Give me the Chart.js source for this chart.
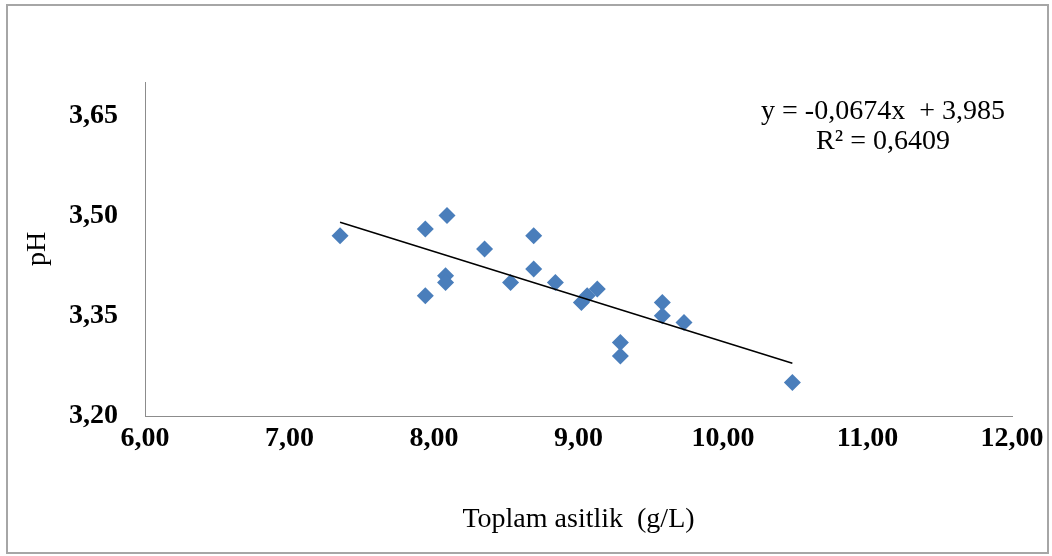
<!DOCTYPE html>
<html>
<head>
<meta charset="utf-8">
<script src="https://cdn.jsdelivr.net/npm/chart.js@4"></script>
<style>
  html, body { margin: 0; padding: 0; background: #ffffff; }
  #wrap { width: 1052px; height: 556px; }
</style>
</head>
<body>
<div id="wrap"><canvas id="chart" width="1052" height="556"></canvas></div>
<script>
// values
const acidity = [7.35, 7.94, 8.09, 8.35, 8.69, 8.69, 8.08, 8.08, 7.94, 8.53,
                 8.84, 9.02, 9.06, 9.13, 9.29, 9.29, 9.58, 9.58, 9.73, 10.48];
const phValues = [3.47, 3.48, 3.50, 3.45, 3.47, 3.42, 3.41, 3.40, 3.38, 3.40,
                  3.40, 3.37, 3.38, 3.39, 3.31, 3.29, 3.37, 3.35, 3.34, 3.25];

// trend line end points (linear fit shown on the chart)
const trendX = [7.35, 10.48];
const trendY = [3.490, 3.279];
const trendLabels = ["y = -0,0674x  + 3,985", "R² = 0,6409"];

const xTicks = [6, 7, 8, 9, 10, 11, 12];
const yTicks = [3.20, 3.35, 3.50, 3.65];

const serif = "'Liberation Serif', 'Times New Roman', serif";

function comma(v) {
  return Number(v).toFixed(2).replace(".", ",");
}

const frame = {
  id: "frame",
  beforeDraw(chart) {
    const ctx = chart.ctx;
    ctx.save();
    ctx.fillStyle = "#ffffff";
    ctx.fillRect(0, 0, chart.width, chart.height);
    ctx.strokeStyle = "#a6a6a6";
    ctx.lineWidth = 2;
    ctx.strokeRect(7, 5, 1041, 548);
    ctx.restore();
  },
  afterDraw(chart) {
    const ctx = chart.ctx;
    const area = chart.chartArea;
    ctx.save();
    ctx.fillStyle = "#000000";
    ctx.font = "28px " + serif;
    ctx.textAlign = "center";
    ctx.textBaseline = "middle";
    ctx.fillText(trendLabels[0], area.right - 129, 112);
    ctx.fillText(trendLabels[1], area.right - 129, 142);
    ctx.restore();
  }
};

new Chart(document.getElementById("chart"), {
  type: "scatter",
  data: {
    datasets: [
      {
        label: "pH",
        data: acidity.map((x, i) => ({ x: x, y: phValues[i] })),
        pointStyle: "rectRot",
        pointRadius: 8.5,
        pointHoverRadius: 8.5,
        backgroundColor: "#4a7ebb",
        borderColor: "#4a7ebb",
        borderWidth: 0,
        order: 2
      },
      {
        type: "line",
        label: "trend",
        data: trendX.map((x, i) => ({ x: x, y: trendY[i] })),
        borderColor: "#000000",
        borderWidth: 1.5,
        pointRadius: 0,
        fill: false,
        order: 1
      }
    ]
  },
  options: {
    responsive: false,
    animation: false,
    layout: { padding: { left: 10, top: 82, right: 40, bottom: 0 } },
    plugins: {
      legend: { display: false },
      tooltip: { enabled: false }
    },
    scales: {
      x: {
        type: "linear",
        min: 6,
        max: 12,
        afterBuildTicks(scale) { scale.ticks = xTicks.map(v => ({ value: v })); },
        afterFit(scale) { scale.height = 140; },
        grid: { display: false, drawTicks: false },
        border: { display: true, color: "#8c8c8c", width: 1 },
        ticks: {
          padding: 6,
          color: "#000000",
          maxRotation: 0,
          font: { family: serif, size: 28, weight: "bold" },
          callback: v => comma(v)
        },
        title: {
          display: true,
          text: "Toplam asitlik  (g/L)",
          color: "#000000",
          font: { family: serif, size: 28 },
          padding: { top: 0, bottom: 20 }
        }
      },
      y: {
        type: "linear",
        min: 3.2,
        max: 3.7,
        afterBuildTicks(scale) { scale.ticks = yTicks.map(v => ({ value: v })); },
        afterFit(scale) { scale.width = 135; },
        grid: { display: false, drawTicks: false },
        border: { display: true, color: "#8c8c8c", width: 1 },
        ticks: {
          padding: 27,
          color: "#000000",
          font: { family: serif, size: 28, weight: "bold" },
          callback: v => comma(v)
        },
        title: {
          display: true,
          text: "pH",
          color: "#000000",
          font: { family: serif, size: 28 },
          padding: { top: 11, bottom: 0 }
        }
      }
    }
  },
  plugins: [frame]
});
</script>
</body>
</html>
